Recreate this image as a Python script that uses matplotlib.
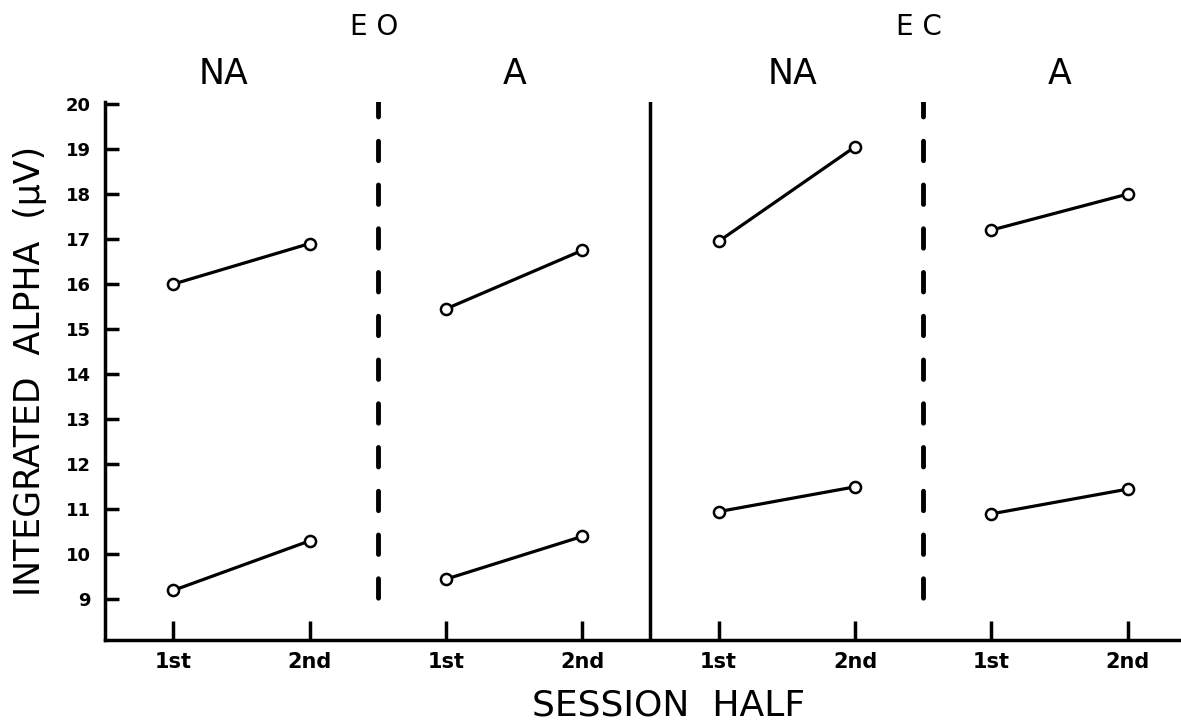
import matplotlib
matplotlib.use("Agg")
import matplotlib.pyplot as plt

# data
halves = ["1st", "2nd"] * 4
x_pos = list(range(8))
upper = [16.0, 16.9, 15.45, 16.75, 16.95, 19.05, 17.2, 18.0]
lower = [9.2, 10.3, 9.45, 10.4, 10.95, 11.5, 10.9, 11.45]
cond_labels = ["NA", "A", "NA", "A"]
cond_x = [0.37, 2.5, 4.54, 6.5]
eye_labels = ["E O", "E C"]
eye_x = [1.47, 5.47]
yticks = list(range(9, 21))

plt.rcParams['font.family'] = ['DejaVu Sans']

fig = plt.figure(figsize=(11.81, 7.27), dpi=100)
ax = fig.add_axes([0.0889, 0.1197, 0.9111, 0.7404])

for i in range(0, 8, 2):
    for ser in (upper, lower):
        ax.plot(x_pos[i:i + 2], ser[i:i + 2], color='black', lw=2.3,
                marker='o', ms=8, mfc='white', mec='black', mew=1.8,
                solid_capstyle='round')

# group dividers
for xd in (1.5, 5.5):
    ax.plot([xd, xd], [20.15, 9.0], color='black', lw=3.5,
            linestyle=(0, (4, 5)), dash_capstyle='round')
ax.plot([3.5, 3.5], [8.1, 20.05], color='black', lw=2.5)

ax.set_xlim(-0.5, 7.39)
ax.set_ylim(8.1, 20.05)

for s in ('top', 'right'):
    ax.spines[s].set_visible(False)
ax.spines['left'].set_linewidth(2.5)
ax.spines['bottom'].set_linewidth(2.5)

ax.set_yticks(yticks)
ax.set_yticklabels([str(v) for v in yticks], fontsize=13, fontweight='bold')
ax.set_xticks(x_pos)
ax.set_xticklabels(halves, fontsize=15, fontweight='bold')
ax.tick_params(axis='y', direction='in', length=10, width=2.5, pad=10)
ax.tick_params(axis='x', direction='in', length=14, width=2.5, pad=9)

for lab, xc in zip(cond_labels, cond_x):
    ax.text(xc, 20.67, lab, ha='center', va='center', fontsize=25, clip_on=False)
for lab, xc in zip(eye_labels, eye_x):
    ax.text(xc, 21.71, lab, ha='center', va='center', fontsize=20, clip_on=False)

fig.text(30 / 1181, 1 - 371 / 727, "INTEGRATED  ALPHA  (μV)", rotation=90,
         ha='center', va='center', fontsize=25)
fig.text(669 / 1181, 1 - 705 / 727, "SESSION  HALF", ha='center', va='center',
         fontsize=26)

fig.savefig("out.png", dpi=100)
